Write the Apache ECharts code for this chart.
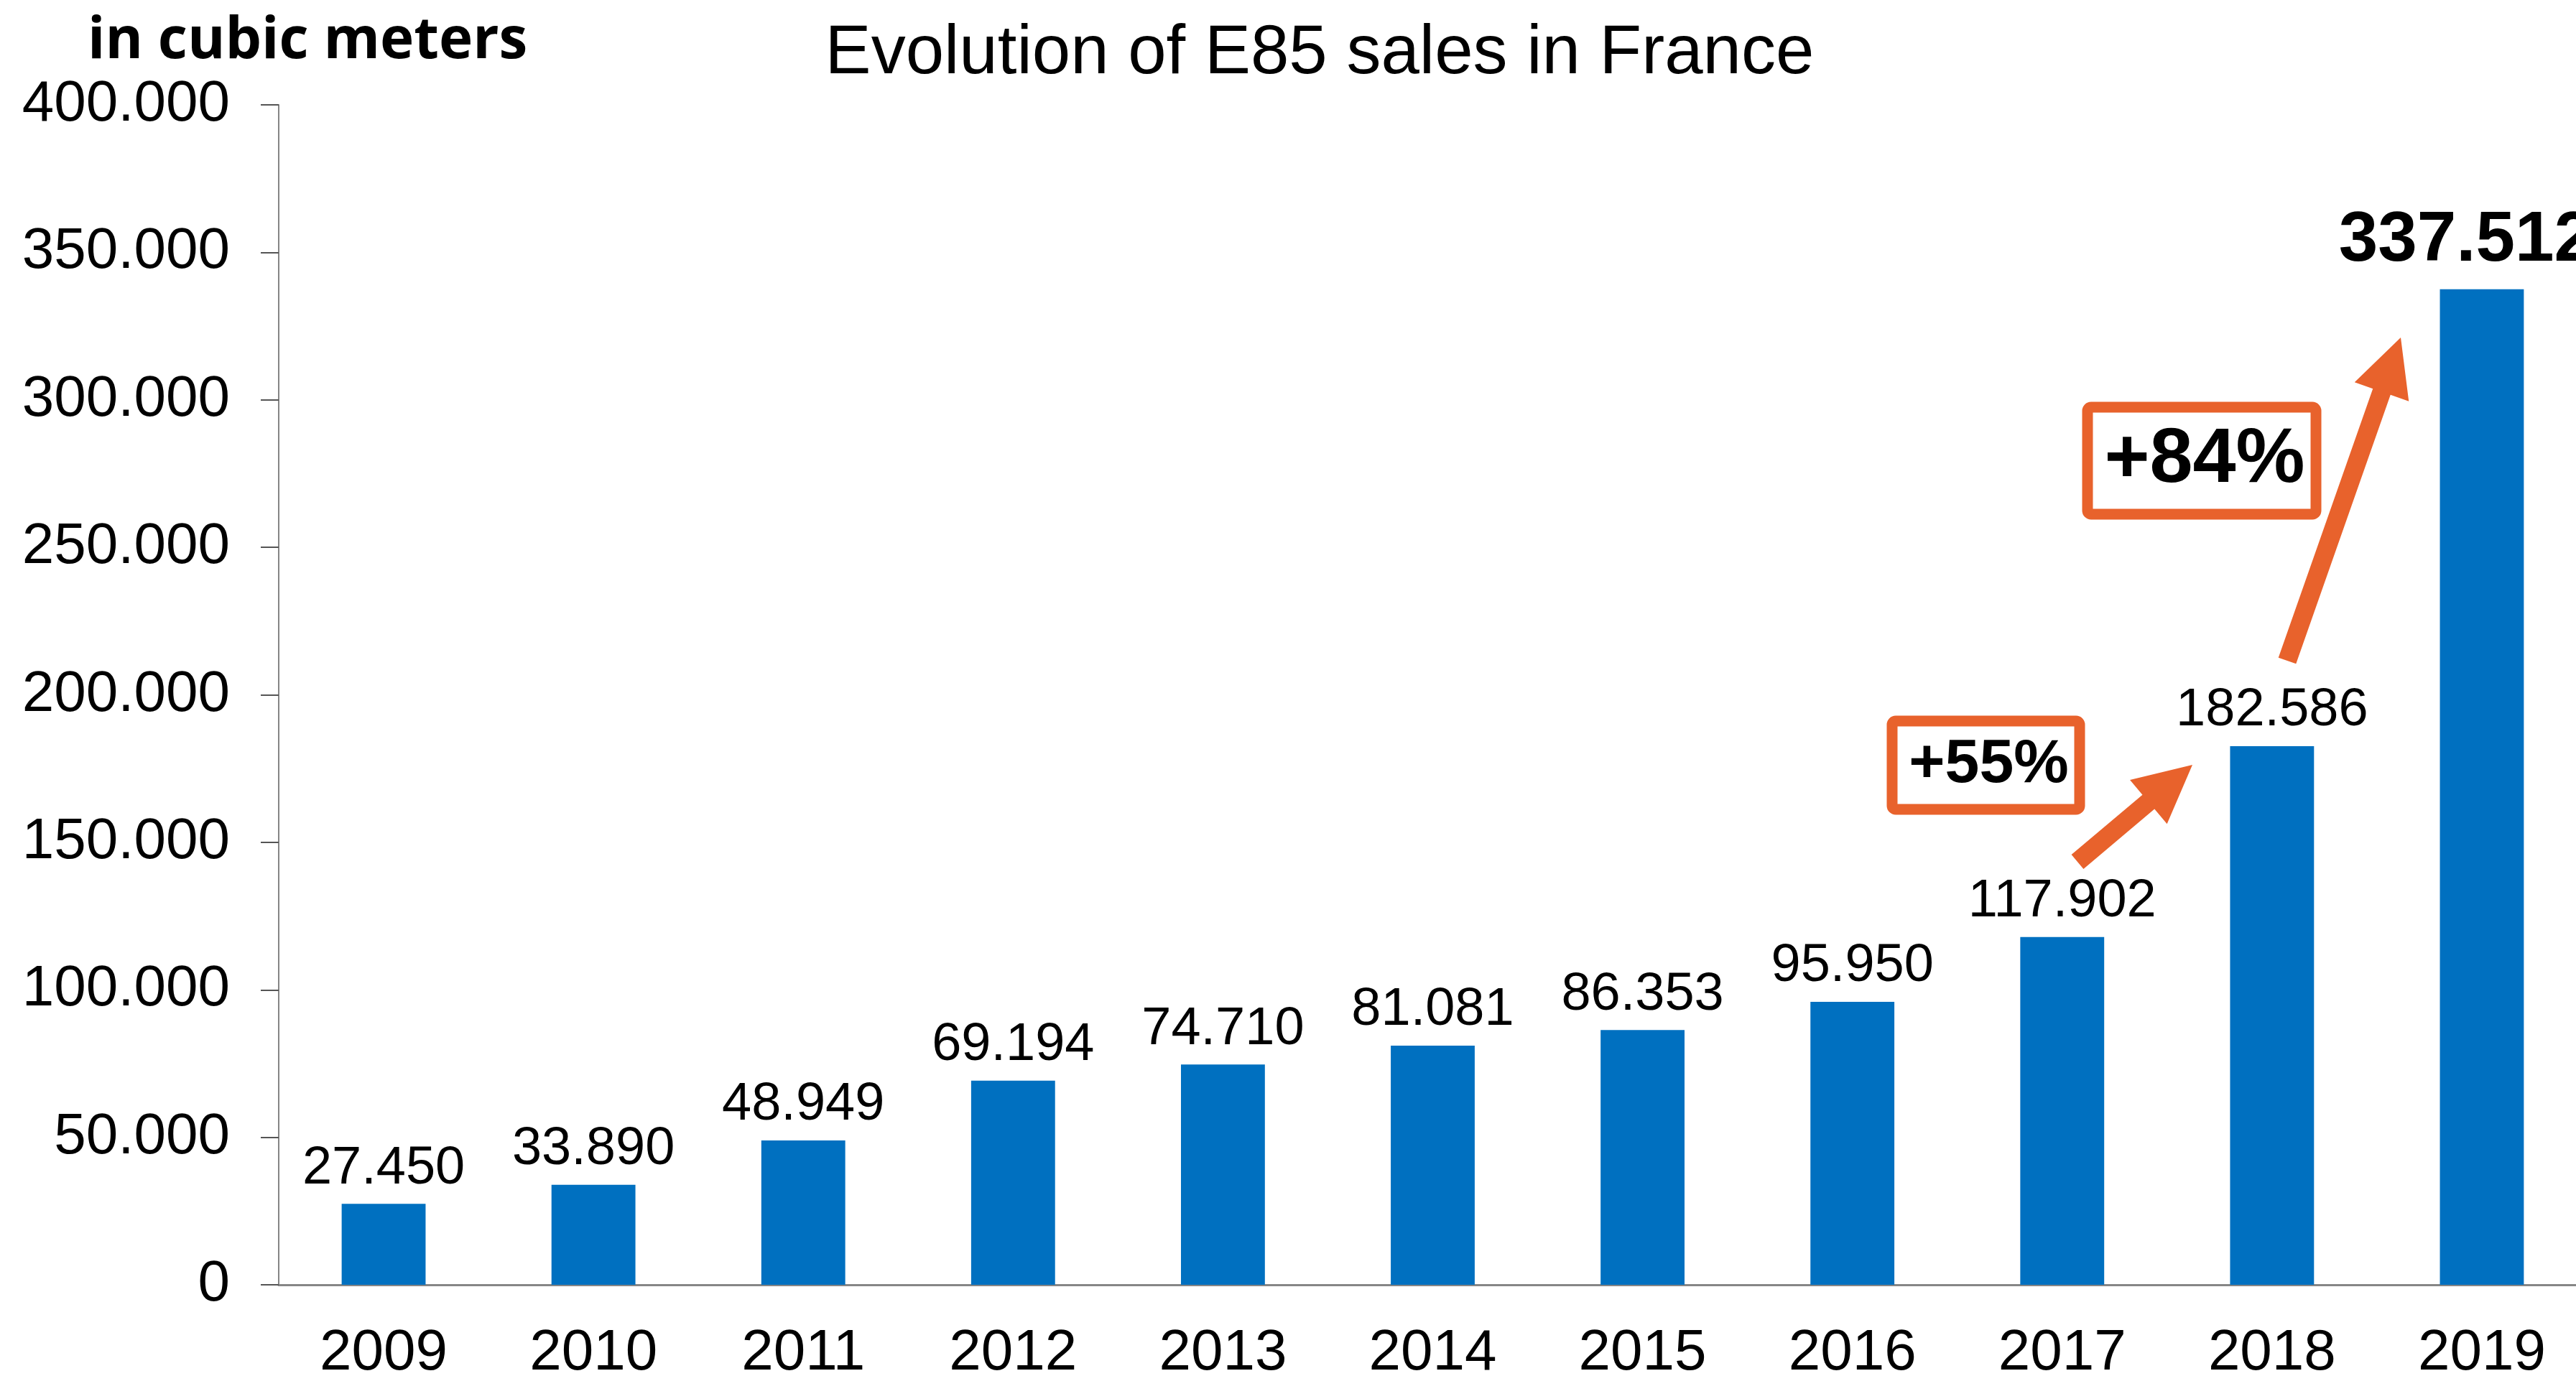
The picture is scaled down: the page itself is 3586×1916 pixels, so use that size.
<!DOCTYPE html>
<html>
<head>
<meta charset="utf-8">
<script src="https://cdn.jsdelivr.net/npm/echarts@6/dist/echarts.min.js"></script>
<style>
  html, body { margin: 0; padding: 0; background: #fff; }
  #chart { width: 3586px; height: 1916px; }
</style>
</head>
<body>
<div id="chart"></div>
<script>
const years = ["2009", "2010", "2011", "2012", "2013", "2014", "2015", "2016", "2017", "2018", "2019"];
const sales = [27450, 33890, 48949, 69194, 74710, 81081, 86353, 95950, 117902, 182586, 337512];
const yTicks = [0, 50000, 100000, 150000, 200000, 250000, 300000, 350000, 400000];
const growthLabels = ["+55%", "+84%"];

const orange = "#E8622C";
const blue = "#0070C0";
const font = "Liberation Sans";

// 27450 -> "27.450"
function fmt(v) {
  return String(v).replace(/\B(?=(\d{3})+(?!\d))/g, ".");
}

// arrow polygon from tail to tip
function arrow(x1, y1, x2, y2, shaft, headLen, headHalf) {
  const dx = x2 - x1, dy = y2 - y1;
  const len = Math.sqrt(dx * dx + dy * dy);
  const ux = dx / len, uy = dy / len;
  const nx = -uy, ny = ux;
  const bx = x2 - ux * headLen, by = y2 - uy * headLen;
  const s = shaft / 2;
  return {
    type: "polygon",
    shape: {
      points: [
        [x1 + nx * s, y1 + ny * s],
        [bx + nx * s, by + ny * s],
        [bx + nx * headHalf, by + ny * headHalf],
        [x2, y2],
        [bx - nx * headHalf, by - ny * headHalf],
        [bx - nx * s, by - ny * s],
        [x1 - nx * s, y1 - ny * s]
      ]
    },
    style: { fill: orange },
    z: 100
  };
}

function box(x, y, w, h, text, size) {
  return {
    type: "group",
    z: 100,
    children: [
      {
        type: "rect",
        shape: { x: x, y: y, width: w, height: h, r: 5 },
        style: { fill: "#fff", stroke: orange, lineWidth: 15 }
      },
      {
        type: "text",
        x: x + w / 2 + 4,
        y: y + h / 2,
        style: {
          text: text,
          font: "bold " + size + "px '" + font + "'",
          fill: "#000",
          align: "center",
          verticalAlign: "middle"
        }
      }
    ]
  };
}

const chart = echarts.init(document.getElementById("chart"));

const option = {
  backgroundColor: "#fff",
  animation: false,
  title: {
    text: "Evolution of E85 sales in France",
    left: 1832,
    top: 23,
    textAlign: "center",
    textStyle: {
      fontFamily: font,
      fontSize: 96,
      fontWeight: "normal",
      color: "#000"
    }
  },
  grid: {
    left: 388,
    right: -15,
    top: 146,
    bottom: 127,
    containLabel: false,
    outerBoundsMode: "none"
  },
  xAxis: {
    type: "category",
    data: years,
    axisLine: { lineStyle: { color: "#868686", width: 3 } },
    axisTick: { length: 23, lineStyle: { color: "#868686", width: 2 } },
    axisLabel: {
      fontFamily: font,
      fontSize: 80,
      color: "#000",
      margin: 56
    }
  },
  yAxis: {
    type: "value",
    min: yTicks[0],
    max: yTicks[yTicks.length - 1],
    interval: yTicks[1] - yTicks[0],
    splitLine: { show: false },
    axisLine: { show: true, lineStyle: { color: "#868686", width: 2 } },
    axisTick: { show: true, length: 25, lineStyle: { color: "#555", width: 2 } },
    axisLabel: {
      fontFamily: font,
      fontSize: 80,
      color: "#000",
      margin: 68,
      formatter: fmt
    }
  },
  series: [
    {
      type: "bar",
      barWidth: "40%",
      itemStyle: { color: blue },
      label: {
        show: true,
        position: "top",
        distance: 12,
        fontFamily: font,
        fontSize: 74,
        color: "#000",
        formatter: (p) => fmt(p.value)
      },
      data: sales.map((v, i) =>
        i === sales.length - 1
          ? { value: v, label: { fontSize: 98, fontWeight: "bold", distance: 18, offset: [-22, 0] } }
          : v
      )
    }
  ],
  graphic: [
    {
      type: "text",
      left: 122,
      top: 18,
      style: {
        text: "in cubic meters",
        font: "bold 80px 'Open Sans'",
        fill: "#000"
      }
    },
    box(2634, 1004, 261, 123, growthLabels[0], 86),
    box(2906, 567, 318, 149, growthLabels[1], 108),
    arrow(2892, 1200, 3052, 1065, 26, 80, 40),
    arrow(3184, 920, 3342, 470, 26, 80, 40)
  ]
};

chart.setOption(option);
</script>
</body>
</html>
